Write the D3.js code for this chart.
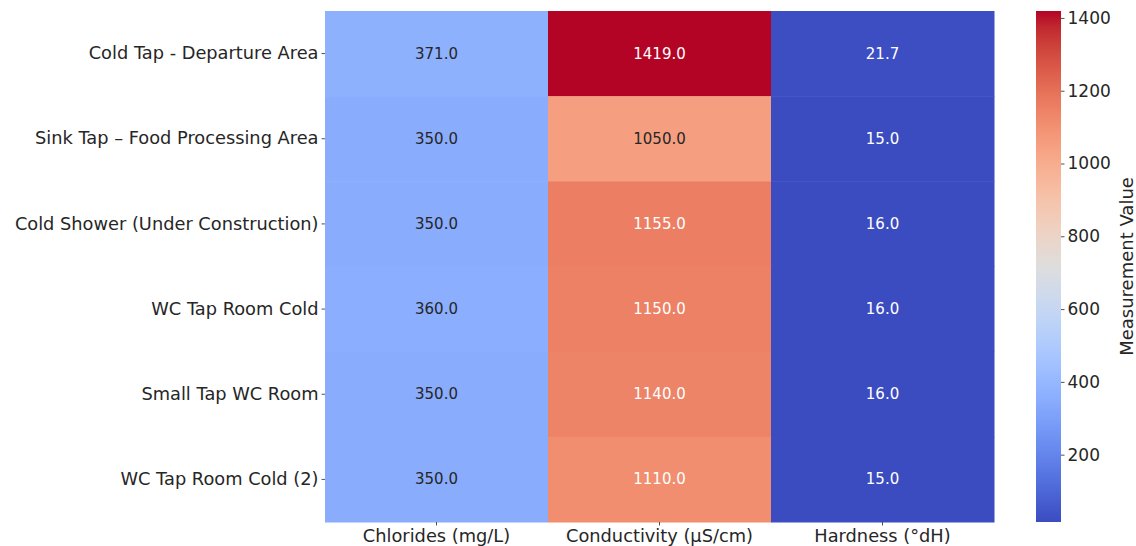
<!DOCTYPE html>
<html><head><meta charset="utf-8">
<script src="https://cdn.jsdelivr.net/npm/d3@7"></script>
<style>body{margin:0;background:#fff;} text{font-family:"DejaVu Sans",sans-serif;fill:#262626;}</style>
</head><body>
<svg id="c" width="1136" height="546"></svg>
<script>
const locations = ["Cold Tap - Departure Area","Sink Tap \u2013 Food Processing Area","Cold Shower (Under Construction)","WC Tap Room Cold","Small Tap WC Room","WC Tap Room Cold (2)"];
const parameters = ["Chlorides (mg/L)","Conductivity (\u00b5S/cm)","Hardness (\u00b0dH)"];
const chlorides = [371.0,350.0,350.0,360.0,350.0,350.0];
const conductivity = [1419.0,1050.0,1155.0,1150.0,1140.0,1110.0];
const hardness = [21.7,15.0,16.0,16.0,16.0,15.0];
const colorbarTicks = [200,400,600,800,1000,1200,1400];
const colorbarLabel = "Measurement Value";

// coolwarm anchors (Moreland)
const cw = [[59,76,192],[68,90,204],[77,104,215],[87,117,225],[98,130,234],[108,142,241],[119,154,247],[130,165,251],[141,176,254],[152,185,255],[163,194,255],[174,201,253],[184,208,249],[194,213,244],[204,217,238],[213,219,230],[221,221,221],[229,216,209],[236,211,197],[241,204,185],[245,196,173],[247,187,160],[247,177,148],[247,166,135],[244,154,123],[241,141,111],[236,127,99],[229,112,88],[222,96,77],[213,80,66],[203,62,56],[192,40,47],[180,4,38]];
function coolwarm(t){
  t=Math.max(0,Math.min(1,t));
  const p=t*(cw.length-1), i=Math.min(Math.floor(p),cw.length-2), f=p-i;
  const c=cw[i].map((v,k)=>Math.round(v+(cw[i+1][k]-v)*f));
  return `rgb(${c[0]},${c[1]},${c[2]})`;
}
const columns=[chlorides,conductivity,hardness];
const cells=[];
locations.forEach((loc,r)=>parameters.forEach((par,c)=>cells.push({loc,par,v:columns[c][r]})));
const all=cells.map(d=>d.v);
const vmin=d3.min(all), vmax=d3.max(all);
const norm=d3.scaleLinear().domain([vmin,vmax]).range([0,1]);
const color=v=>coolwarm(norm(v));

function lum(col){
  const c=d3.rgb(col);
  const f=x=>{x/=255;return x<=0.03928?x/12.92:Math.pow((x+0.055)/1.055,2.4);};
  return 0.2126*f(c.r)+0.7152*f(c.g)+0.0722*f(c.b);
}

const svg=d3.select("#c");
const L=325,R=994,T=11,B=522;
const x=d3.scaleBand().domain(parameters).range([L,R]);
const y=d3.scaleBand().domain(locations).range([T,B]);

svg.append("g").selectAll("rect").data(cells).join("rect")
  .attr("x",d=>x(d.par)).attr("y",d=>y(d.loc))
  .attr("width",x.bandwidth()+0.5).attr("height",y.bandwidth()+0.5)
  .attr("fill",d=>color(d.v));
svg.append("g").selectAll("text").data(cells).join("text")
  .attr("x",d=>x(d.par)+x.bandwidth()/2).attr("y",d=>y(d.loc)+y.bandwidth()/2)
  .attr("text-anchor","middle").attr("dominant-baseline","central")
  .style("font-size","15px")
  .style("fill",d=>lum(color(d.v))>0.408?"#262626":"#ffffff")
  .text(d=>d.v.toFixed(1));

const ax=svg.append("g").attr("transform",`translate(0,${B})`).call(d3.axisBottom(x).tickSize(3.5).tickPadding(4));
const ay=svg.append("g").attr("transform",`translate(${L},0)`).call(d3.axisLeft(y).tickSize(3.5).tickPadding(3));
[ax,ay].forEach(a=>{a.select(".domain").remove();a.selectAll(".tick line").attr("stroke","#262626").attr("stroke-width",0.8);a.selectAll("text").style("font-size","17.8px").style("fill","#262626").attr("font-family",null);});
ax.selectAll("text").attr("y",19.5).attr("dy",0);

// colorbar
const cbL=1036,cbW=25;
const cy=d3.scaleLinear().domain([vmin,vmax]).range([B,T]);
const defs=svg.append("defs");
const grad=defs.append("linearGradient").attr("id","g").attr("x1",0).attr("y1",1).attr("x2",0).attr("y2",0);
d3.range(0,1.0001,1/64).forEach(t=>grad.append("stop").attr("offset",t).attr("stop-color",coolwarm(t)));
svg.append("rect").attr("x",cbL).attr("y",T).attr("width",cbW).attr("height",B-T).attr("fill","url(#g)");
const ac=svg.append("g").attr("transform",`translate(${cbL+cbW},0)`).call(d3.axisRight(cy).tickValues(colorbarTicks).tickFormat(d3.format("d")).tickSize(3.5).tickPadding(3));
ac.select(".domain").remove();
ac.selectAll(".tick line").attr("stroke","#262626").attr("stroke-width",0.8);
ac.selectAll("text").style("font-size","17px").style("fill","#262626").attr("font-family",null);
svg.append("text").attr("transform",`translate(1126,${(T+B)/2}) rotate(-90)`)
  .attr("text-anchor","middle").attr("dominant-baseline","central").style("font-size","18px").text(colorbarLabel);
</script></body></html>
